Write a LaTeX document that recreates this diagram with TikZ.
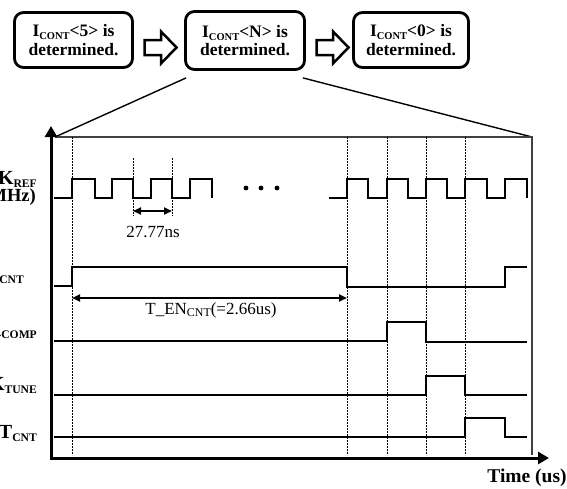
\documentclass[tikz,border=0pt]{standalone}
\usepackage{fontspec}
\setmainfont{Liberation Serif}
\usepackage{graphicx}
\usetikzlibrary{arrows.meta,calc}
% lowered, shrunken subscript used in signal names
\newcommand\lsub[2][0.58]{\raisebox{-0.17em}{\scalebox{#1}{#2}}}

\begin{document}
\begin{tikzpicture}[x=1pt,y=-1pt,
  stagebox/.style={draw, line width=2.8pt, rounded corners=9pt, align=center,
    font=\fontsize{17.5}{18.5}\selectfont\bfseries, inner sep=0pt},
  blockarrow/.style={line width=2.5pt, line join=miter},
  zoomline/.style={line width=1.4pt},
  frameline/.style={line width=1.1pt, black!75},
  wave/.style={line width=2.3pt, line join=miter},
  guide/.style={line width=0.8pt, dash pattern=on 2pt off 1pt},
  axis/.style={line width=3pt, line join=miter,
    {Triangle[length=11pt,width=12pt]}-{Triangle[length=11pt,width=12pt]}},
  span/.style={line width=1.8pt,
    {Triangle[length=8pt,width=7pt]}-{Triangle[length=8pt,width=7pt]}},
  siglabel/.style={font=\fontsize{20}{20}\selectfont\bfseries, anchor=base east, inner sep=0pt},
  note/.style={font=\fontsize{17}{17}\selectfont, inner sep=0pt}
]
\useasboundingbox (0,0) rectangle (567,488);

% ---- bit decision stages ----
\node[stagebox, minimum width=118pt, minimum height=55pt] (s5) at (73.5,40)
  {I\lsub[0.6]{CONT}<5> is\\determined.};
\node[stagebox, minimum width=119pt, minimum height=58pt] (sN) at (245,40.5)
  {I\lsub[0.6]{CONT}<N> is\\determined.};
\node[stagebox, minimum width=115pt, minimum height=55pt] (s0) at (411,40)
  {I\lsub[0.6]{CONT}<0> is\\determined.};

% hollow block arrows between stages
\draw[blockarrow] (144.5,40) -- (161,40) -- (161,31.5) -- (176.5,47.5)
  -- (161,63.5) -- (161,55) -- (144.5,55) -- cycle;
\draw[blockarrow] (316.5,40) -- (333,40) -- (333,31.5) -- (348.5,47.5)
  -- (333,63.5) -- (333,55) -- (316.5,55) -- cycle;

% ---- zoom frame ----
\coordinate (zl) at (55,137);
\coordinate (zr) at (532,137);
\coordinate (zrb) at (532,455);
\draw[zoomline] ($(sN.south west)+(2,7)$) -- (zl);
\draw[zoomline] ($(sN.south east)+(-3,7)$) -- (zr);
\draw[frameline] (zl) -- (zr) -- (zrb);

% ---- axes ----
\coordinate (ytop) at (51,126);
\coordinate (origin) at (51,458);
\coordinate (xend) at (549,458);
\draw[axis] (ytop) -- (origin) -- (xend);
\node[font=\fontsize{19.5}{19.5}\selectfont\bfseries, inner sep=0pt] (tlabel) at (527,478) {Time (us)};

% ---- guide lines ----
\foreach \gx in {72,347,387,426,465}
  \draw[guide] (\gx,137) -- (\gx,455);
\foreach \gx in {133,172}
  \draw[guide] (\gx,158) -- (\gx,216);

% ---- signal names ----
\node[siglabel] (lclk) at (37,184) {CLK\lsub{REF}};
\node[siglabel, font=\fontsize{18.5}{18.5}\selectfont\bfseries] (lmhz) at (36,201) {(36MHz)};
\node[siglabel] (len) at (24,280) {EN\lsub{CNT}};
\node[siglabel] (lcomp) at (37,335.5) {EN\lsub{I-COMP}};
\node[siglabel] (ltune) at (37,390.5) {CLK\lsub{TUNE}};
\node[siglabel] (lrst) at (37,438) {RST\lsub{CNT}};

% ---- waveforms ----
% reference clock, first cycles
\draw[wave] (54,198) -- (72,198) -- (72,179) -- (95,179) -- (95,198) -- (112,198)
  -- (112,179) -- (133,179) -- (133,198) -- (151,198) -- (151,179) -- (172,179)
  -- (172,198) -- (190,198) -- (190,179) -- (212,179) -- (212,198);
\foreach \dx in {246,261,277}
  \fill (\dx,188) circle[radius=2.4pt];
% reference clock, last cycles
\draw[wave] (329,198) -- (347,198) -- (347,179) -- (368,179) -- (368,198) -- (387,198)
  -- (387,179) -- (408,179) -- (408,198) -- (426,198) -- (426,179) -- (447,179)
  -- (447,198) -- (465,198) -- (465,179) -- (487,179) -- (487,198) -- (505,198)
  -- (505,179) -- (527,179) -- (527,198);
% counter enable
\draw[wave] (54,286) -- (72,286) -- (72,267) -- (347,267) -- (347,287) -- (505,287)
  -- (505,267) -- (527,267);
% comparator enable
\draw[wave] (54,341) -- (387,341) -- (387,322) -- (426,322) -- (426,342) -- (527,342);
% tuning clock
\draw[wave] (54,395) -- (426,395) -- (426,376) -- (465,376) -- (465,395) -- (527,395);
% counter reset
\draw[wave] (54,437) -- (465,437) -- (465,418) -- (505,418) -- (505,437) -- (527,437);

% ---- timing annotations ----
\coordinate (pa) at (133,211);
\coordinate (pb) at (172,211);
\draw[span] (pa) -- (pb);
\node[note] (period) at (153,232) {27.77ns};
\coordinate (ea) at (72,298);
\coordinate (eb) at (347,298);
\draw[span, line width=2pt] (ea) -- (eb);
\node[note] (enlen) at (211,310) {T\_EN\lsub[0.7]{CNT}(=2.66us)};
\end{tikzpicture}
\end{document}
